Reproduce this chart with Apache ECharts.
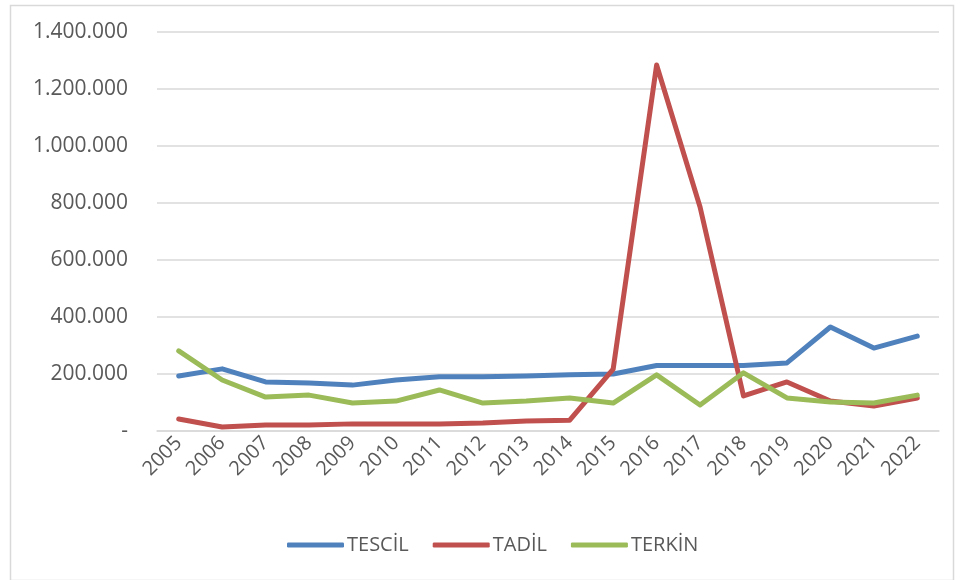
<!DOCTYPE html>
<html>
<head>
<meta charset="utf-8">
<script src="https://cdn.jsdelivr.net/npm/echarts@6/dist/echarts.min.js"></script>
<style>html,body{margin:0;padding:0;background:#fff;}#c{width:960px;height:580px;}</style>
</head>
<body>
<div id="c"></div>
<script>
const years = ['2005','2006','2007','2008','2009','2010','2011','2012','2013','2014','2015','2016','2017','2018','2019','2020','2021','2022'];
const tescil = [193000,218000,172000,168000,161000,179000,190000,190000,193000,197000,200000,230000,230000,230000,239000,365000,291000,333000];
const tadil = [42000,14000,21000,21000,25000,25000,25000,28000,35000,38000,217000,1284000,786000,123000,172000,105000,88000,116000];
const terkin = [281000,179000,119000,126000,98000,105000,144000,98000,105000,116000,98000,197000,91000,204000,116000,102000,98000,126000];
const seriesNames = ['TESCİL','TADİL','TERKİN'];
const colors = ['#4F81BD','#C0504D','#9BBB59'];

function fmt(v){
  if (v === 0) return '-';
  return String(v).replace(/\B(?=(\d{3})+(?!\d))/g, '.');
}

const chart = echarts.init(document.getElementById('c'));
const font = "'Open Sans', 'Noto Sans', sans-serif";
chart.setOption({
  animation: false,
  backgroundColor: '#fff',
  textStyle: { fontFamily: font },
  graphic: [{
    type: 'rect', left: 8, top: 3,
    shape: { width: 943, height: 575 },
    style: { fill: 'none', stroke: '#d9d9d9', lineWidth: 1.5 },
    silent: true
  }],
  grid: { left: 157, right: 21, top: 32, bottom: 149, containLabel: false },
  legend: {
    top: 530, left: 282,
    itemWidth: 57, itemHeight: 5, itemGap: 24,
    icon: 'roundRect',
    textStyle: { color: '#595959', fontSize: 20, fontFamily: font, padding: [0,0,0,-2] },
    data: seriesNames
  },
  xAxis: {
    type: 'category',
    data: years,
    boundaryGap: true,
    axisLine: { show: true, lineStyle: { color: '#d9d9d9', width: 1.5 } },
    axisTick: { show: false },
    axisLabel: { rotate: 45, color: '#595959', fontSize: 20, margin: 9, fontFamily: font, interval: 0 }
  },
  yAxis: {
    type: 'value',
    min: 0, max: 1400000, interval: 200000,
    axisLine: { show: false },
    axisTick: { show: false },
    splitLine: { lineStyle: { color: '#d9d9d9', width: 1.5 } },
    axisLabel: { color: '#595959', fontSize: 21, margin: 29, fontFamily: font, formatter: fmt }
  },
  series: [
    { name: seriesNames[0], type: 'line', data: tescil, symbol: 'none', lineStyle: { width: 5, color: colors[0], cap: 'round', join: 'round' }, itemStyle: { color: colors[0] } },
    { name: seriesNames[1], type: 'line', data: tadil, symbol: 'none', lineStyle: { width: 5, color: colors[1], cap: 'round', join: 'round' }, itemStyle: { color: colors[1] } },
    { name: seriesNames[2], type: 'line', data: terkin, symbol: 'none', lineStyle: { width: 5, color: colors[2], cap: 'round', join: 'round' }, itemStyle: { color: colors[2] } }
  ]
});
</script>
</body>
</html>
